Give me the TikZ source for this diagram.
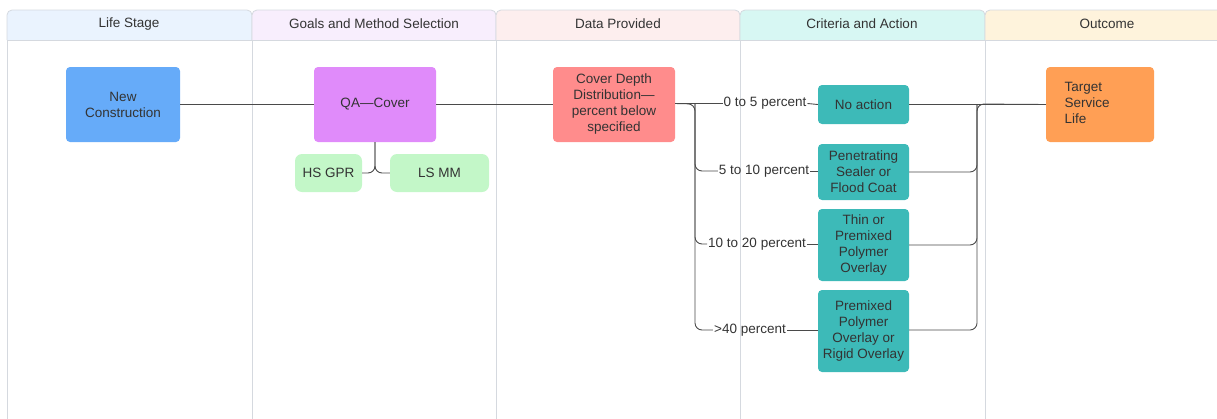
\documentclass[tikz,border=0pt]{standalone}
\usepackage{fontspec}
\setmainfont{Liberation Sans}
\definecolor{hblue}{HTML}{EAF3FE}
\definecolor{hpurple}{HTML}{F8EEFD}
\definecolor{hpink}{HTML}{FDEEEE}
\definecolor{hteal}{HTML}{D7F7F3}
\definecolor{horange}{HTML}{FEF3DC}
\definecolor{nblue}{HTML}{66ABF9}
\definecolor{npurple}{HTML}{E08BFA}
\definecolor{ngreen}{HTML}{C3F7C8}
\definecolor{nred}{HTML}{FF8C8C}
\definecolor{nteal}{HTML}{3DBAB8}
\definecolor{norange}{HTML}{FF9F55}
\definecolor{txt}{HTML}{333333}
\definecolor{lanegray}{HTML}{D5D9DF}
\definecolor{linegray}{HTML}{4A4A4A}
\begin{document}
\begin{tikzpicture}[x=1pt,y=-1pt,
  every node/.style={font=\fontsize{13.5}{16}\selectfont, text=txt},
  box/.style={rounded corners=4pt, align=center, inner sep=2pt},
  hdr/.style={draw=lanegray, line width=0.8pt, rounded corners=5pt},
  lane/.style={draw=lanegray, line width=0.8pt},
  conn/.style={draw=linegray, line width=0.9pt, rounded corners=7pt},
  lbl/.style={inner sep=1pt}
]
\useasboundingbox (0,0) rectangle (1217,418);
\clip (0,0) rectangle (1217,418);
% headers
\path[hdr, fill=hblue] (7,40) -- (7,10) -- (252,10) -- (252,40);
\path[hdr, fill=hpurple] (252,40) -- (252,10) -- (496,10) -- (496,40);
\path[hdr, fill=hpink] (496,40) -- (496,10) -- (740,10) -- (740,40);
\path[hdr, fill=hteal] (740,40) -- (740,10) -- (985,10) -- (985,40);
\path[hdr, fill=horange] (985,40) -- (985,10) -- (1232,10) -- (1232,40);
\draw[lane] (7,40) -- (1232,40);
\foreach \xx in {7,252,496,740,985} \draw[lane] (\xx,40) -- (\xx,420);
\node (h1) at (129,24) {Life Stage};
\node (h2) at (374,24) {Goals and Method Selection};
\node (h3) at (618,24) {Data Provided};
\node (h4) at (862,24) {Criteria and Action};
\node (h5) at (1107,24) {Outcome};
% nodes
\node[box, fill=nblue, minimum width=114pt, minimum height=75pt] (nc) at (123,104.5) {New\\Construction};
\node[box, fill=npurple, minimum width=122pt, minimum height=75pt] (qa) at (375,104.5) {QA—Cover};
\node[box, fill=ngreen, minimum width=67pt, minimum height=38pt, rounded corners=7pt] (hs) at (328.5,173) {HS GPR};
\node[box, fill=ngreen, minimum width=99pt, minimum height=38pt, rounded corners=7pt] (ls) at (439.5,173) {LS MM};
\node[box, fill=nred, minimum width=122pt, minimum height=75pt] (cd) at (614,104.5) {Cover Depth\\Distribution—\\percent below\\specified};
\node[box, fill=nteal, minimum width=91pt, minimum height=39pt] (na) at (863.5,104.5) {No action};
\node[box, fill=nteal, minimum width=91pt, minimum height=56pt] (pe) at (863.5,172) {Penetrating\\Sealer or\\Flood Coat};
\node[box, fill=nteal, minimum width=91pt, minimum height=72pt] (th) at (863.5,245) {Thin or\\Premixed\\Polymer\\Overlay};
\node[box, fill=nteal, minimum width=91pt, minimum height=82pt] (pm) at (863.5,331) {Premixed\\Polymer\\Overlay or\\Rigid Overlay};
\node[box, fill=norange, minimum width=108pt, minimum height=75pt, align=left] (tg) at (1100,104.5) {\hspace*{-26pt}\begin{tabular}{@{}l@{}}Target\\Service\\Life\end{tabular}};
% labels
\node[lbl] (l1) at (765,103.5) {0 to 5 percent};
\node[lbl] (l2) at (764,171) {5 to 10 percent};
\node[lbl] (l3) at (757,244) {10 to 20 percent};
\node[lbl] (l4) at (750,330) {>40 percent};
\coordinate (tl) at (695,104);
\coordinate (tr) at (977,104);
% connectors
\draw[conn] (nc.east) -- (qa.west);
\draw[conn] (qa.east) -- (cd.west);
\draw[conn] (qa.south) |- (hs.east);
\draw[conn] (qa.south) |- (ls.west);
\draw[conn] (cd.east |- l1.west) -- (l1.west);
\draw[conn] (l1.east) -- (na.west);
\draw[conn] (cd.east |- l1.west) -- (tl) |- (l2.west);
\draw[conn] (tl) |- (l3.west);
\draw[conn] (tl) |- (l4.west);
\draw[conn] (l2.east) -- (pe.west |- l2.east);
\draw[conn] (l3.east) -- (th.west |- l3.east);
\draw[conn] (l4.east) -- (pm.west |- l4.east);
\draw[conn] (na.east) -- (tg.west);
\draw[conn] (pe.east) -| (tr) -- (tg.west);
\draw[conn] (th.east) -| (tr);
\draw[conn] (pm.east |- l4.east) -| (tr);
\end{tikzpicture}
\end{document}
